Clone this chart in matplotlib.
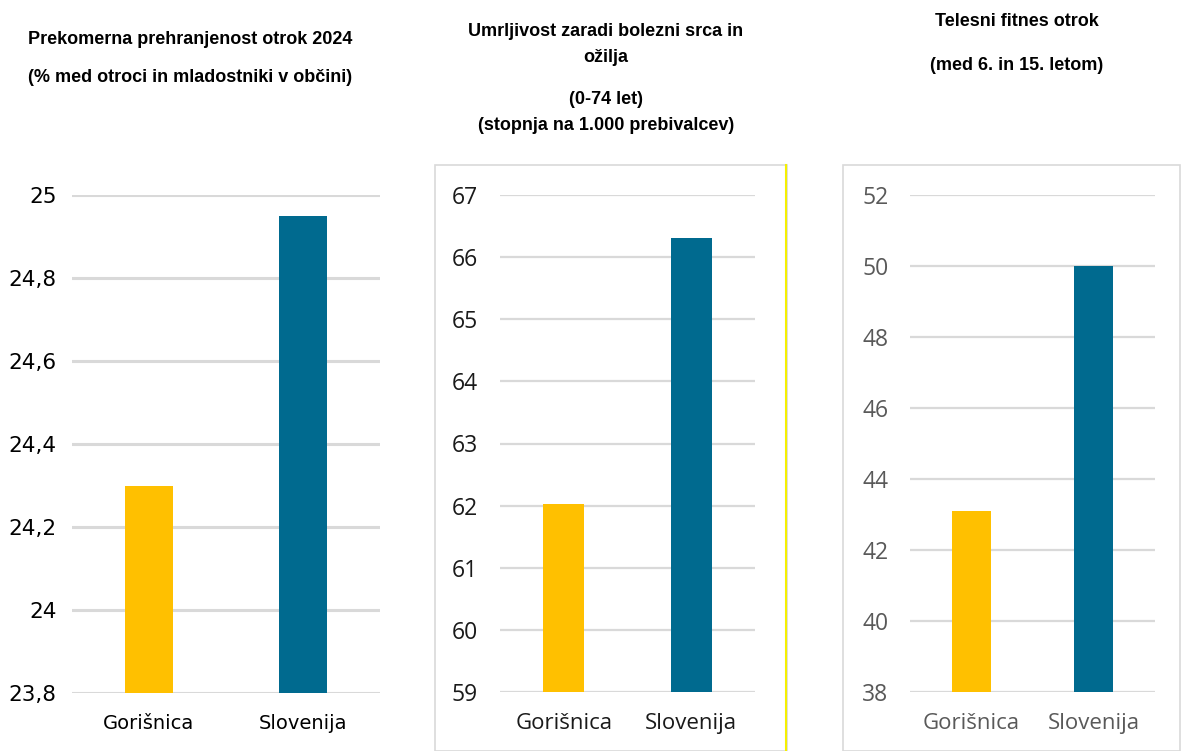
import matplotlib.pyplot as plt
from matplotlib.patches import Rectangle
from matplotlib.lines import Line2D
from matplotlib.ticker import FuncFormatter

kraji = ['Gorišnica', 'Slovenija']
barve = ['#FFC000', '#006A8F']

debelost = [24.3, 24.95]
debelost_ticks = [23.8, 24.0, 24.2, 24.4, 24.6, 24.8, 25.0]

umrljivost = [62.03, 66.3]
umrljivost_ticks = [59, 60, 61, 62, 63, 64, 65, 66, 67]

fitnes = [43.1, 50.0]
fitnes_ticks = [38, 40, 42, 44, 46, 48, 50, 52]

W, H = 1183, 751
fig = plt.figure(figsize=(W / 100, H / 100), dpi=100)
fig.patch.set_facecolor('white')


def px_axes(x0, x1, ytop, ybot):
    return fig.add_axes([x0 / W, 1 - ybot / H, (x1 - x0) / W, (ybot - ytop) / H])


def naslov(x, y, s):
    fig.text(x / W, 1 - y / H, s, ha='center', va='center', fontsize=13,
             fontweight='bold', family=['Liberation Sans Narrow', 'Liberation Sans'])


def graf(ax, vals, ticks, width, fmt, font, ysize, xsize, col, ypad, xpad, gw):
    ax.bar(range(len(kraji)), vals, width=width, color=barve, zorder=3)
    ax.set_xlim(-0.5, 1.5)
    ax.set_ylim(ticks[0], ticks[-1])
    ax.set_yticks(ticks)
    ax.yaxis.set_major_formatter(FuncFormatter(fmt))
    ax.set_xticks(range(len(kraji)))
    ax.set_xticklabels(kraji)
    ax.grid(axis='y', color='#D9D9D9', linewidth=gw, zorder=0)
    ax.set_axisbelow(True)
    for s in ax.spines.values():
        s.set_visible(False)
    ax.tick_params(length=0, colors=col)
    ax.tick_params(axis='y', pad=ypad, labelsize=ysize)
    ax.tick_params(axis='x', pad=xpad, labelsize=xsize)
    for lab in ax.get_xticklabels() + ax.get_yticklabels():
        lab.set_family(font)
    ax.set_facecolor('none')


# okvirja drugega in tretjega grafa
fig.add_artist(Rectangle((435 / W, 0), (787 - 435) / W, 1 - 165 / H,
                         transform=fig.transFigure, fill=False,
                         edgecolor='#D9D9D9', linewidth=1.2))
fig.add_artist(Line2D([786 / W, 786 / W], [0, 1 - 165 / H],
                      transform=fig.transFigure, color='#F5F000', linewidth=1.5))
fig.add_artist(Rectangle((843 / W, 0), (1180 - 843) / W, 1 - 165 / H,
                         transform=fig.transFigure, fill=False,
                         edgecolor='#D9D9D9', linewidth=1.2))

ax1 = px_axes(72, 380, 195, 693)
graf(ax1, debelost, debelost_ticks, 0.31,
     lambda v, p: ('%g' % round(v, 1)).replace('.', ','),
     'DejaVu Sans', 15.5, 14, '#000000', 11, 15, 2.2)

ax2 = px_axes(500, 755, 195, 692)
graf(ax2, umrljivost, umrljivost_ticks, 0.32,
     lambda v, p: '%d' % v, 'Open Sans', 16.5, 16, '#1A1A1A', 16, 15, 1.6)

ax3 = px_axes(910, 1155, 195, 692)
graf(ax3, fitnes, fitnes_ticks, 0.32,
     lambda v, p: '%d' % v, 'Open Sans', 16.5, 16, '#595959', 15.5, 15, 1.6)

naslov(190, 40, 'Prekomerna prehranjenost otrok 2024')
naslov(190, 77, '(% med otroci in mladostniki v občini)')
naslov(606, 32, 'Umrljivost zaradi bolezni srca in')
naslov(606, 58, 'ožilja')
naslov(606, 100, '(0-74 let)')
naslov(606, 126, '(stopnja na 1.000 prebivalcev)')
naslov(1017, 22, 'Telesni fitnes otrok')
naslov(1017, 65, '(med 6. in 15. letom)')

fig.savefig('out.png', dpi=100)
